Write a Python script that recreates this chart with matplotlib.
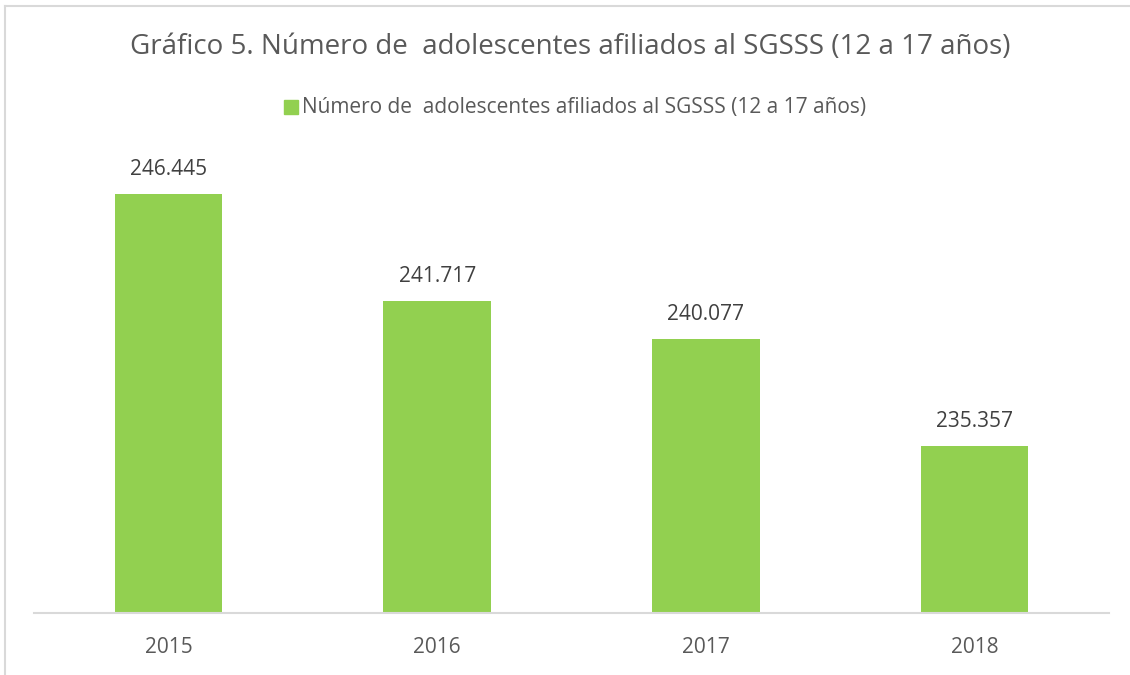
import numpy as np
import matplotlib.pyplot as plt
from matplotlib.lines import Line2D

plt.rcParams['font.family'] = ['Open Sans', 'DejaVu Sans']

years = ['2015', '2016', '2017', '2018']
values = [246445, 241717, 240077, 235357]
labels = ['246.445', '241.717', '240.077', '235.357']
serie = 'Número de  adolescentes afiliados al SGSSS (12 a 17 años)'
titulo = 'Gráfico 5. Número de  adolescentes afiliados al SGSSS (12 a 17 años)'

green = '#92D050'
gris = '#595959'

fig = plt.figure(figsize=(11.3, 6.75), dpi=100)
W, H = 1130, 675
ax = fig.add_axes([34 / W, 1 - 613 / H, (1109 - 34) / W, (613 - 158.5) / H])

x = np.arange(len(years))
bars = ax.bar(x, values, width=0.4, color=green, zorder=2)
ax.set_xlim(-0.5, len(years) - 0.5)
ax.set_ylim(228000, 248000)

for b, lab in zip(bars, labels):
    ax.annotate(lab, (b.get_x() + b.get_width() / 2, b.get_height()),
                xytext=(0, 10), textcoords='offset points',
                ha='center', va='bottom', fontsize=15, color='#404040')

ax.set_xticks(x)
ax.set_xticklabels(years, fontsize=15, color=gris)
ax.tick_params(axis='x', length=0, pad=17)
ax.set_yticks([])
for s in ['top', 'right', 'left']:
    ax.spines[s].set_visible(False)
ax.spines['bottom'].set_color('#D9D9D9')
ax.spines['bottom'].set_linewidth(1.5)

# titulo y leyenda
fig.text(570 / W, 1 - 47 / H, titulo, ha='center', va='center', fontsize=20, color=gris)
fig.patches.append(plt.Rectangle((284 / W, 1 - 114 / H), 14 / W, 14 / H,
                                 transform=fig.transFigure, color=green))
fig.text(302 / W, 1 - 107 / H, serie, ha='left', va='center', fontsize=15, color=gris)

# borde del grafico
fig.add_artist(Line2D([5 / W, 5 / W], [0, 1 - 6 / H], transform=fig.transFigure,
                      color='#D9D9D9', lw=1.5))
fig.add_artist(Line2D([5 / W, 1], [1 - 6 / H, 1 - 6 / H], transform=fig.transFigure,
                      color='#D9D9D9', lw=1.5))

fig.savefig('out.png', dpi=100)
